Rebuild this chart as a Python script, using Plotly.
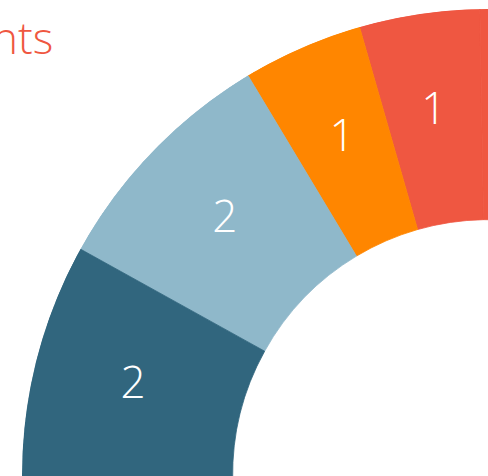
import plotly.graph_objects as go

# Data (slices in order, counter-clockwise from 12 o'clock; the last five lie outside the visible crop)
categories = ["A", "B", "C", "D", "E", "F", "G", "H", "I"]
values = [1, 1, 2, 2, 5, 4, 4, 3, 2]
palette = ["#EF5741", "#FF8600", "#8FB8CA", "#31667E"]
title_text = "nts"

colors = [palette[i % len(palette)] for i in range(len(values))]

W, H = 976, 950
CX, CY, R = 488, 475, 466
HOLE = 0.548
START = 1.0  # degrees counter-clockwise from 12 o'clock where the first slice begins

total = sum(values)
domain = dict(x=[(CX - R) / W, (CX + R) / W], y=[(H - CY - R) / H, (H - CY + R) / H])

cum, thetas, widths = 0, [], []
for v in values:
    thetas.append(START + (cum + v / 2) * 360 / total)
    widths.append(v * 360 / total)
    cum += v

fig = go.Figure()
# donut slices as polar bars spanning the ring
fig.add_trace(go.Barpolar(
    theta=thetas,
    width=widths,
    r=[1 - HOLE] * len(values),
    base=[HOLE] * len(values),
    marker=dict(color=colors, line=dict(color=colors, width=0.8)),
    customdata=categories,
    hovertemplate="%{customdata}<extra></extra>",
    showlegend=False,
))
# value labels at each slice's mid-angle on the ring
fig.add_trace(go.Scatterpolar(
    r=[0.785] * len(values),
    theta=thetas,
    mode="text",
    text=[str(v) for v in values],
    textposition="middle center",
    textfont=dict(family="Open Sans", size=44, color="white", weight=300),
    showlegend=False,
    hoverinfo="skip",
))

fig.add_annotation(
    text=title_text, xref="paper", yref="paper",
    x=55 / W, y=1 - 37 / H, xanchor="right", yanchor="middle",
    showarrow=False,
    font=dict(family="Open Sans", size=44, color="#EF5741", weight=300),
)

fig.update_layout(
    width=W, height=H,
    margin=dict(l=0, r=0, t=0, b=0),
    paper_bgcolor="white", plot_bgcolor="white",
    polar=dict(
        domain=domain,
        bgcolor="rgba(0,0,0,0)",
        bargap=0,
        hole=0,
        radialaxis=dict(visible=False, range=[0, 1], showgrid=False),
        angularaxis=dict(visible=False, rotation=90, direction="counterclockwise", showgrid=False),
    ),
)

fig.write_html(
    "out.html",
    post_script="document.body.style.margin='0';document.body.style.overflow='hidden';document.documentElement.style.overflow='hidden';",
)
